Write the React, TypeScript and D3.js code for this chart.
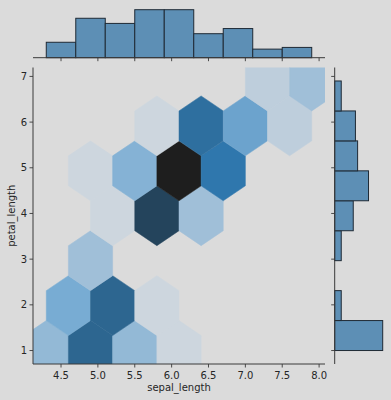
import * as d3 from "d3";

// hexbin cells (centres in data units) and point counts
const hexX = [4.3, 4.9, 5.5, 6.1, 4.6, 5.2, 5.8, 4.9, 5.2, 5.8, 6.4, 4.9, 5.5, 6.1, 6.7, 5.8, 6.4, 7.0, 7.6, 7.3, 7.9];
const hexY = [1.0, 1.0, 1.0, 1.0, 1.983, 1.983, 1.983, 2.967, 3.95, 3.95, 3.95, 4.933, 4.933, 4.933, 4.933, 5.917, 5.917, 5.917, 5.917, 6.9, 6.9];
const hexCount = [5, 15, 5, 1, 7, 15, 1, 4, 1, 18, 4, 1, 6, 22, 13, 1, 14, 8, 2, 2, 4];

// marginal histograms
const sepalEdges = [4.3, 4.7, 5.1, 5.5, 5.9, 6.3, 6.7, 7.1, 7.5, 7.9];
const sepalCounts = [9, 23, 20, 28, 28, 14, 17, 5, 6];
const petalEdges = [1.0, 1.656, 2.311, 2.967, 3.622, 4.278, 4.933, 5.589, 6.244, 6.9];
const petalCounts = [44, 6, 0, 6, 17, 31, 21, 19, 6];

const xTicks = [4.5, 5.0, 5.5, 6.0, 6.5, 7.0, 7.5, 8.0];
const yTicks = [1, 2, 3, 4, 5, 6, 7];

const BG = "#dbdbdb";
const INK = "#262626";
const SPINE = "#3a3a3a";
const BAR = "#5d8fb5";
const BAR_EDGE = "#1f2a35";
const FONT = "DejaVu Sans, sans-serif";

const M = { left: 33, right: 325, top: 67.5, bottom: 364 };
const sx = 0.6;
const sy = 5.9 / 3;
const HEX = [[0.5, -0.5], [0.5, 0.5], [0, 1], [-0.5, 0.5], [-0.5, -0.5], [0, -1]];

export default function App() {
  const x = d3.scaleLinear().domain([4.12, 8.08]).range([M.left, M.right]);
  const y = d3.scaleLinear().domain([0.705, 7.195]).range([M.bottom, M.top]);
  const color = d3
    .scaleLinear<string>()
    .domain([1, 4, 7, 13, 15, 18, 22])
    .range(["#cdd6de", "#a0bfd8", "#78acd3", "#2f77ad", "#2d6690", "#24445c", "#1e1e1e"]);

  const topY = d3.scaleLinear().domain([0, 29.4]).range([57.7, 7.3]);
  const sideX = d3.scaleLinear().domain([0, 46.2]).range([334.7, 385.1]);

  const line = d3.line<[number, number]>();
  const hexes = hexX.map((cx, i) => {
    const pts = HEX.map(([dx, dy]) => [x(cx + dx * sx), y(hexY[i] + (dy * sy) / 3)] as [number, number]);
    return { d: line(pts) + "Z", fill: color(hexCount[i]) };
  });

  return (
    <svg width={391} height={400} style={{ position: "absolute", left: 0, top: 0 }}>
      <rect width={391} height={400} fill={BG} />
      <defs>
        <clipPath id="main-clip">
          <rect x={M.left} y={M.top} width={M.right - M.left} height={M.bottom - M.top} />
        </clipPath>
      </defs>

      {/* hexbin */}
      <g clipPath="url(#main-clip)">
        {hexes.map((h, i) => (
          <path key={i} d={h.d} fill={h.fill} stroke={h.fill} strokeWidth={0.5} />
        ))}
      </g>

      {/* main axes */}
      <line x1={M.left} x2={M.left} y1={M.top} y2={M.bottom} stroke={SPINE} strokeWidth={1} />
      <line x1={M.left} x2={M.right} y1={M.bottom} y2={M.bottom} stroke={SPINE} strokeWidth={1} />
      {xTicks.map((t) => (
        <g key={t}>
          <line x1={x(t)} x2={x(t)} y1={M.bottom} y2={M.bottom + 3.5} stroke={SPINE} strokeWidth={0.9} />
          <text x={x(t)} y={M.bottom + 14.5} textAnchor="middle" fill={INK} fontSize={10} fontFamily={FONT}>
            {d3.format(".1f")(t)}
          </text>
          <line x1={x(t)} x2={x(t)} y1={57.7} y2={61.2} stroke={SPINE} strokeWidth={0.9} />
        </g>
      ))}
      {yTicks.map((t) => (
        <g key={t}>
          <line x1={M.left - 3.5} x2={M.left} y1={y(t)} y2={y(t)} stroke={SPINE} strokeWidth={0.9} />
          <text x={M.left - 6} y={y(t) + 3.6} textAnchor="end" fill={INK} fontSize={10} fontFamily={FONT}>
            {t}
          </text>
          <line x1={334.7 - 3.5} x2={334.7} y1={y(t)} y2={y(t)} stroke={SPINE} strokeWidth={0.9} />
        </g>
      ))}
      <text x={(M.left + M.right) / 2} y={391} textAnchor="middle" fill={INK} fontSize={10} fontFamily={FONT}>
        sepal_length
      </text>
      <text
        transform={`translate(15,${(M.top + M.bottom) / 2}) rotate(-90)`}
        textAnchor="middle"
        fill={INK}
        fontSize={10}
        fontFamily={FONT}
      >
        petal_length
      </text>

      {/* top marginal histogram */}
      {sepalCounts.map((c, i) => (
        <rect
          key={i}
          x={x(sepalEdges[i])}
          y={topY(c)}
          width={x(sepalEdges[i + 1]) - x(sepalEdges[i])}
          height={topY(0) - topY(c)}
          fill={BAR}
          stroke={BAR_EDGE}
          strokeWidth={1}
        />
      ))}
      <line x1={M.left} x2={M.right} y1={57.7} y2={57.7} stroke={SPINE} strokeWidth={1} />

      {/* right marginal histogram */}
      {petalCounts.map((c, i) =>
        c > 0 ? (
          <rect
            key={i}
            x={sideX(0)}
            y={y(petalEdges[i + 1])}
            width={sideX(c) - sideX(0)}
            height={y(petalEdges[i]) - y(petalEdges[i + 1])}
            fill={BAR}
            stroke={BAR_EDGE}
            strokeWidth={1}
          />
        ) : null
      )}
      <line x1={334.7} x2={334.7} y1={M.top} y2={M.bottom} stroke={SPINE} strokeWidth={1} />
    </svg>
  );
}
